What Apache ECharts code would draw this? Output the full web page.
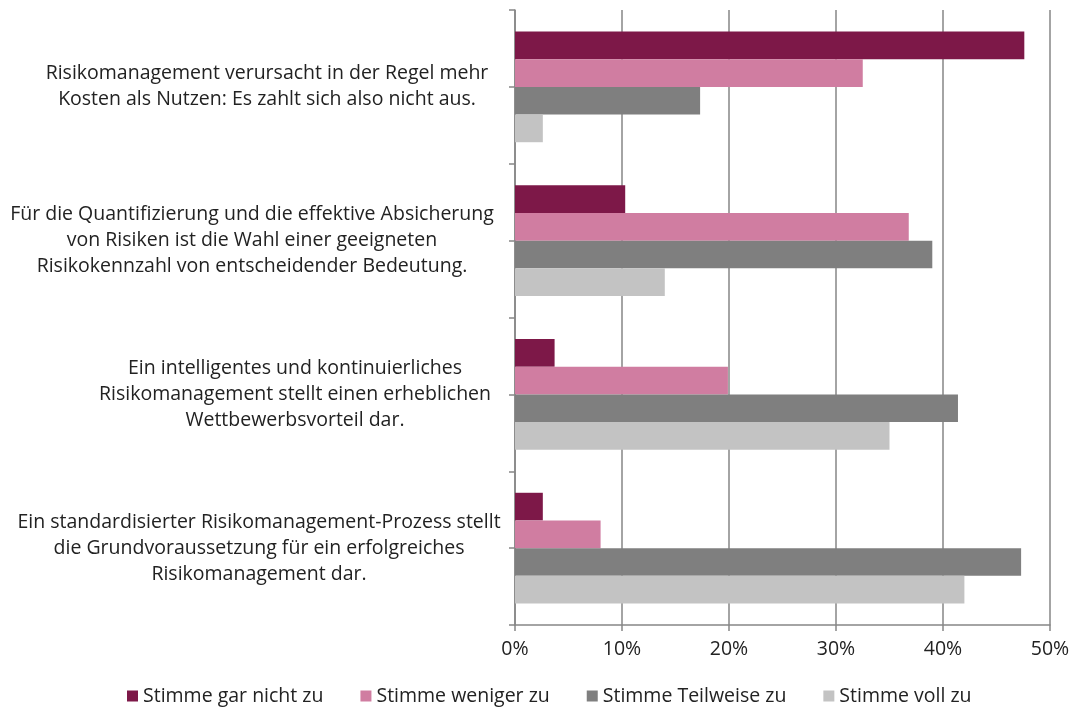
<!DOCTYPE html>
<html>
<head>
<meta charset="utf-8">
<script src="https://cdn.jsdelivr.net/npm/echarts@6/dist/echarts.min.js"></script>
<style>
  html, body { margin: 0; padding: 0; background: #fff; }
  #main { width: 1074px; height: 713px; }
</style>
</head>
<body>
<div id="main"></div>
<script>
// Kategorien (von oben nach unten)
var categories = [
  'Risikomanagement verursacht in der Regel mehr\nKosten als Nutzen: Es zahlt sich also nicht aus.',
  'Für die Quantifizierung und die effektive Absicherung\nvon Risiken ist die Wahl einer geeigneten\nRisikokennzahl von entscheidender Bedeutung.',
  'Ein intelligentes und kontinuierliches\nRisikomanagement stellt einen erheblichen\nWettbewerbsvorteil dar.',
  'Ein standardisierter Risikomanagement-Prozess stellt\ndie Grundvoraussetzung für ein erfolgreiches\nRisikomanagement dar.'
];
var seriesNames = ['Stimme gar nicht zu', 'Stimme weniger zu', 'Stimme Teilweise zu', 'Stimme voll zu'];
var garNicht = [0.476, 0.103, 0.037, 0.026];
var weniger = [0.325, 0.368, 0.199, 0.080];
var teilweise = [0.173, 0.390, 0.414, 0.473];
var vollZu = [0.026, 0.140, 0.350, 0.420];

var chart = echarts.init(document.getElementById('main'), null, { renderer: 'canvas' });
var colors = ['#7d1848', '#d07da1', '#7f7f7f', '#c3c3c3'];
var axisGray = '#868686';
var textColor = '#222222';
var font = '"Open Sans", sans-serif';
var fs = 19.5;

// Blockbreite je Kategorie: Zeilen zentriert, Block rechts an der Achse
var blockWidth = [460, 490, 404, 476];
var rich = {};
blockWidth.forEach(function (w, i) {
  rich['c' + i] = { width: w, align: 'center', fontSize: fs, lineHeight: 26, color: textColor, fontFamily: font };
});

var option = {
  color: colors,
  textStyle: { fontFamily: font },
  grid: { left: 515, right: 24, top: 10, bottom: 88, outerBoundsMode: 'none' },
  legend: {
    data: seriesNames,
    left: 122,
    bottom: 2,
    icon: 'rect',
    itemWidth: 11,
    itemHeight: 11,
    itemGap: 37,
    textStyle: { fontFamily: font, fontSize: fs, color: textColor }
  },
  xAxis: {
    type: 'value',
    min: 0,
    max: 0.5,
    interval: 0.1,
    axisLine: { show: true, lineStyle: { color: axisGray, width: 1.5 } },
    axisTick: { show: true, length: 6, lineStyle: { color: axisGray, width: 1.5 } },
    splitLine: { show: true, lineStyle: { color: axisGray, width: 1.5 } },
    axisLabel: {
      margin: 14,
      fontSize: fs,
      color: textColor,
      fontFamily: font,
      formatter: function (v) { return Math.round(v * 100) + '%'; }
    }
  },
  yAxis: [
    {
      type: 'category',
      inverse: true,
      data: categories,
      axisLine: { show: true, lineStyle: { color: axisGray, width: 1.5 } },
      axisTick: { show: true, length: 6, lineStyle: { color: axisGray, width: 1.5 } },
      axisLabel: {
        margin: 18,
        interval: 0,
        fontSize: fs,
        lineHeight: 26,
        color: textColor,
        fontFamily: font,
        rich: rich,
        formatter: function (v, i) {
          return v.split('\n').map(function (l) { return '{c' + i + '|' + l + '}'; }).join('\n');
        }
      }
    },
    {
      // Striche in der Kategoriemitte
      type: 'category',
      inverse: true,
      position: 'left',
      data: categories,
      axisLine: { show: false },
      axisTick: { show: true, alignWithLabel: true, length: 6, lineStyle: { color: axisGray, width: 1.5 } },
      axisLabel: { show: false }
    }
  ],
  series: [
    { name: seriesNames[0], type: 'bar', data: garNicht, barGap: '0%', barCategoryGap: '28%' },
    { name: seriesNames[1], type: 'bar', data: weniger, barGap: '0%', barCategoryGap: '28%' },
    { name: seriesNames[2], type: 'bar', data: teilweise, barGap: '0%', barCategoryGap: '28%' },
    { name: seriesNames[3], type: 'bar', data: vollZu, barGap: '0%', barCategoryGap: '28%' }
  ]
};

chart.setOption(option);
</script>
</body>
</html>
